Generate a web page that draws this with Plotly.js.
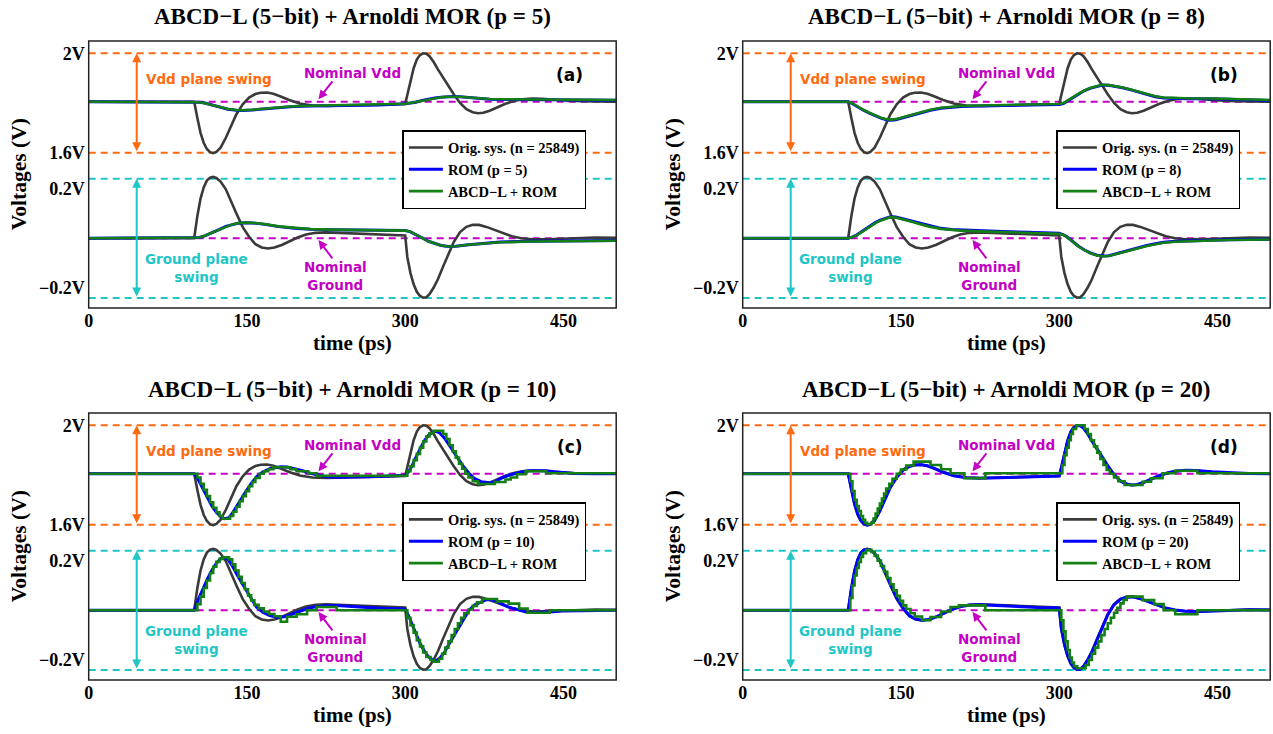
<!DOCTYPE html>
<html><head><meta charset="utf-8">
<script src="https://cdn.plot.ly/plotly-3.0.1.min.js"></script>
<style>html,body{margin:0;padding:0;background:#fff}#chart{width:1273px;height:734px}</style>
</head><body><div id="chart"></div>
<script>
// ---------------- data ----------------
const panelTitles = ['ABCD\u2212L (5\u2212bit) + Arnoldi MOR (p = 5)','ABCD\u2212L (5\u2212bit) + Arnoldi MOR (p = 8)',
  'ABCD\u2212L (5\u2212bit) + Arnoldi MOR (p = 10)','ABCD\u2212L (5\u2212bit) + Arnoldi MOR (p = 20)'];
const panelLetters = ['(a)','(b)','(c)','(d)'];
const romOrders = [5, 8, 10, 20];
const origName = 'Orig. sys. (n = 25849)';
const abcdName = 'ABCD\u2212L + ROM';
const timeSpan = [0, 500];
const timeTicks = [0, 150, 300, 450];
const vddTickVals = [1.6, 2.0];
const vddTickText = ['1.6V', '2V'];
const gndTickVals = [-0.2, 0.2];
const gndTickText = ['\u22120.2V', '0.2V'];
const vddSwing = [1.6, 2.0];
const gndSwing = [-0.24, 0.24];
const nominalVdd = 1.805;
const nominalGnd = 0;

// original system (same in all panels) [time ps, volts]
const origVdd = [[0,1.805],[100,1.805],[103,1.74],[106,1.68],[109,1.64],[112,1.615],[115,1.602],[118,1.598],[121,1.603],[125,1.62],[130,1.66],[135,1.71],[140,1.755],[146,1.795],[152,1.822],[158,1.836],[163,1.841],[169,1.842],[175,1.837],[182,1.826],[190,1.812],[200,1.798],[212,1.79],[225,1.788],[245,1.789],[265,1.791],[285,1.794],[300,1.796],[302,1.83],[305,1.89],[308,1.94],[311,1.975],[314,1.993],[317,2.0],[320,1.998],[323,1.988],[327,1.965],[331,1.935],[336,1.9],[341,1.87],[346,1.835],[352,1.8],[358,1.775],[364,1.763],[369,1.759],[374,1.761],[380,1.769],[387,1.782],[395,1.797],[403,1.808],[411,1.815],[420,1.818],[430,1.817],[445,1.812],[460,1.808],[480,1.806],[500,1.805]];
const origGnd = [[0,0],[100,0],[103,0.09],[106,0.16],[109,0.205],[112,0.232],[115,0.244],[118,0.247],[121,0.243],[125,0.228],[130,0.197],[135,0.152],[140,0.1],[146,0.045],[152,0.006],[158,-0.024],[164,-0.037],[170,-0.041],[176,-0.037],[183,-0.027],[190,-0.013],[198,0.003],[206,0.015],[215,0.022],[225,0.024],[240,0.021],[260,0.016],[280,0.013],[300,0.011],[302,-0.075],[305,-0.14],[308,-0.185],[311,-0.215],[314,-0.232],[317,-0.239],[320,-0.237],[323,-0.225],[327,-0.198],[331,-0.165],[336,-0.113],[341,-0.06],[346,-0.015],[352,0.025],[358,0.046],[364,0.054],[370,0.054],[377,0.046],[385,0.033],[393,0.019],[401,0.008],[410,0.0],[420,-0.004],[435,-0.004],[450,-0.001],[465,0.002],[480,0.003],[500,0.002]];

// panel (a) p = 5
const romVddA = [[0,1.805],[100,1.805],[105,1.803],[110,1.8],[117,1.793],[125,1.783],[132,1.775],[140,1.771],[146,1.77],[155,1.772],[167,1.777],[180,1.782],[194,1.786],[210,1.788],[225,1.789],[250,1.79],[275,1.792],[300,1.797],[305,1.799],[310,1.803],[316,1.81],[322,1.816],[328,1.82],[334,1.823],[340,1.825],[345,1.826],[352,1.825],[360,1.822],[370,1.818],[380,1.815],[395,1.814],[418,1.814],[440,1.813],[470,1.812],[500,1.811]];
const romGndA = [[0,0],[100,0],[105,0.003],[110,0.01],[117,0.022],[124,0.036],[130,0.048],[136,0.056],[142,0.061],[148,0.063],[155,0.062],[167,0.056],[180,0.047],[195,0.04],[210,0.036],[230,0.034],[260,0.032],[300,0.031],[305,0.026],[310,0.016],[316,0.002],[322,-0.012],[328,-0.022],[334,-0.029],[341,-0.033],[348,-0.032],[360,-0.026],[375,-0.019],[390,-0.015],[418,-0.012],[450,-0.01],[500,-0.009]];
const abcdVddA = [[0,1.805],[100,1.805],[105,1.803],[110,1.799],[117,1.792],[125,1.783],[132,1.776],[140,1.772],[146,1.771],[155,1.773],[167,1.778],[180,1.783],[194,1.787],[210,1.789],[225,1.79],[250,1.791],[275,1.793],[300,1.797],[305,1.8],[310,1.804],[316,1.81],[322,1.816],[328,1.82],[334,1.823],[340,1.825],[345,1.826],[352,1.825],[360,1.822],[370,1.818],[380,1.816],[395,1.815],[418,1.815],[440,1.814],[470,1.813],[500,1.812]];
const abcdGndA = [[0,0],[100,0],[105,0.003],[110,0.01],[117,0.022],[124,0.036],[130,0.047],[136,0.056],[142,0.061],[148,0.063],[155,0.062],[167,0.057],[180,0.048],[195,0.041],[210,0.037],[230,0.035],[260,0.033],[300,0.031],[305,0.026],[310,0.016],[316,0.002],[322,-0.012],[328,-0.022],[334,-0.029],[341,-0.033],[348,-0.032],[360,-0.026],[375,-0.02],[390,-0.016],[418,-0.013],[450,-0.011],[500,-0.01]];

// panel (b) p = 8
const romVddB = [[0,1.805],[100,1.805],[104,1.797],[108,1.786],[114,1.772],[120,1.759],[126,1.748],[131,1.739],[136,1.733],[140,1.731],[145,1.733],[154,1.743],[162,1.753],[169,1.762],[178,1.771],[188,1.779],[198,1.784],[207,1.786],[225,1.788],[246,1.789],[270,1.791],[300,1.794],[304,1.798],[307,1.806],[312,1.82],[318,1.836],[324,1.85],[330,1.86],[336,1.868],[341,1.872],[347,1.871],[353,1.867],[360,1.861],[368,1.853],[375,1.844],[383,1.833],[391,1.825],[399,1.82],[410,1.818],[420,1.817],[445,1.817],[475,1.813],[500,1.81]];
const romGndB = [[0,0],[100,0],[104,0.006],[108,0.013],[114,0.03],[120,0.048],[126,0.064],[131,0.074],[136,0.082],[140,0.087],[145,0.086],[154,0.076],[162,0.066],[169,0.058],[178,0.048],[188,0.04],[198,0.035],[207,0.033],[225,0.03],[246,0.027],[270,0.024],[300,0.02],[304,0.014],[307,0.007],[312,-0.01],[318,-0.031],[324,-0.047],[330,-0.06],[336,-0.068],[341,-0.071],[347,-0.07],[353,-0.063],[360,-0.056],[368,-0.047],[375,-0.038],[383,-0.029],[391,-0.022],[399,-0.016],[410,-0.012],[420,-0.01],[437,-0.009],[460,-0.006],[500,-0.004]];
const abcdVddB = [[0,1.805],[100,1.805],[104,1.798],[108,1.787],[114,1.773],[120,1.761],[126,1.75],[131,1.741],[136,1.735],[140,1.733],[145,1.735],[154,1.745],[162,1.755],[169,1.764],[178,1.773],[188,1.781],[198,1.786],[207,1.788],[225,1.79],[246,1.791],[270,1.793],[300,1.796],[304,1.8],[307,1.807],[312,1.821],[318,1.837],[324,1.851],[330,1.861],[336,1.869],[341,1.873],[347,1.872],[353,1.868],[360,1.862],[368,1.854],[375,1.845],[383,1.835],[391,1.827],[399,1.822],[410,1.82],[420,1.819],[445,1.818],[475,1.815],[500,1.812]];
const abcdGndB = [[0,0],[100,0],[104,0.005],[108,0.012],[114,0.028],[120,0.046],[126,0.062],[131,0.072],[136,0.08],[140,0.085],[145,0.084],[154,0.075],[162,0.065],[169,0.056],[178,0.046],[188,0.038],[198,0.033],[207,0.031],[225,0.028],[246,0.025],[270,0.022],[300,0.018],[304,0.013],[307,0.006],[312,-0.011],[318,-0.032],[324,-0.048],[330,-0.061],[336,-0.069],[341,-0.072],[347,-0.071],[353,-0.065],[360,-0.058],[368,-0.049],[375,-0.04],[383,-0.031],[391,-0.024],[399,-0.018],[410,-0.014],[420,-0.012],[437,-0.01],[460,-0.007],[500,-0.005]];

// panel (c) p = 10
const romVddC = [[0,1.805],[100,1.805],[104,1.78],[109,1.74],[113,1.705],[117,1.673],[121,1.65],[125,1.633],[129,1.624],[133,1.628],[136,1.645],[141,1.68],[148,1.727],[154,1.765],[159,1.793],[165,1.812],[171,1.824],[177,1.83],[182.5,1.833],[188,1.832],[194,1.827],[202,1.818],[210,1.807],[218,1.798],[225,1.793],[235,1.791],[244,1.791],[264,1.793],[285,1.796],[300,1.799],[303,1.812],[306,1.833],[310,1.87],[314,1.907],[318,1.937],[322,1.96],[326,1.972],[329,1.976],[333,1.968],[337.5,1.947],[343,1.912],[349,1.873],[355,1.835],[360.5,1.807],[366,1.785],[372,1.773],[376,1.77],[380,1.769],[385,1.772],[391,1.787],[399,1.8],[407,1.809],[412,1.814],[418,1.817],[426,1.818],[434,1.817],[441,1.813],[449,1.809],[460,1.806],[480,1.805],[500,1.805]];
const romGndC = [[0,0],[100,0],[104,0.045],[109,0.093],[113,0.13],[117,0.162],[121,0.19],[125,0.207],[128,0.213],[132,0.205],[136,0.18],[141,0.14],[148,0.09],[154,0.045],[159,0.013],[165,-0.008],[171,-0.02],[179,-0.029],[185,-0.026],[190,-0.02],[196,-0.01],[202,0],[208,0.008],[214,0.013],[225,0.019],[235,0.019],[244,0.016],[264,0.011],[285,0.007],[300,0.005],[303,-0.02],[306,-0.053],[310,-0.095],[314,-0.133],[318,-0.163],[322,-0.187],[326,-0.2],[329,-0.203],[333,-0.192],[337.5,-0.167],[343,-0.125],[349,-0.08],[355,-0.036],[360.5,0],[366,0.022],[372,0.035],[376,0.041],[380,0.043],[385,0.039],[391,0.027],[397,0.015],[403,0.007],[409,-0.001],[414.5,-0.007],[422,-0.009],[430,-0.009],[440,-0.006],[449,-0.003],[470,-0.001],[500,0]];
const abcdVddC = [[0,1.805],[100,1.805],[103,1.79],[106,1.765],[109,1.74],[112,1.715],[115,1.69],[118,1.668],[121,1.65],[124,1.635],[127,1.624],[134,1.635],[137,1.652],[140,1.672],[143,1.695],[146,1.715],[149,1.735],[152,1.755],[155,1.772],[158,1.788],[162,1.805],[166,1.815],[170,1.823],[175,1.831],[191,1.823],[197,1.815],[208,1.807],[216,1.797],[302,1.815],[305,1.835],[308,1.86],[311,1.885],[314,1.91],[317,1.935],[320,1.955],[323,1.968],[327,1.978],[336,1.965],[339,1.945],[342,1.92],[345,1.895],[348,1.87],[351,1.845],[354,1.825],[357,1.805],[360,1.79],[364,1.775],[369,1.764],[385,1.772],[395,1.782],[400,1.79],[406,1.803],[414,1.815],[434,1.807],[500,1.807]];
const abcdGndC = [[0,0],[100,0],[103,0.025],[106,0.055],[109,0.09],[112,0.12],[115,0.15],[118,0.175],[121,0.195],[124,0.207],[127,0.213],[133,0.205],[136,0.185],[139,0.16],[142,0.135],[145,0.11],[148,0.085],[151,0.06],[154,0.04],[157,0.022],[161,0.008],[166,-0.005],[171,-0.015],[176,-0.024],[182,-0.046],[188,-0.026],[197,-0.016],[207,0],[216,0.013],[235,0],[302,-0.03],[305,-0.06],[308,-0.09],[311,-0.12],[314,-0.145],[317,-0.17],[320,-0.188],[324,-0.2],[327,-0.207],[332,-0.195],[335,-0.175],[338,-0.15],[341,-0.125],[344,-0.1],[347,-0.075],[350,-0.052],[353,-0.03],[356,-0.012],[360,0.003],[364,0.018],[368,0.032],[373,0.0455],[387,0.036],[398,0.027],[408,0.007],[416,-0.01],[437,0],[500,0]];

// panel (d) p = 20
const romVddD = [[0,1.805],[100,1.805],[103,1.745],[106,1.685],[109,1.643],[112,1.617],[115,1.603],[118,1.598],[121,1.601],[125,1.616],[130,1.655],[135,1.703],[140,1.75],[146,1.79],[152,1.819],[158,1.834],[163,1.84],[169,1.841],[175,1.837],[182,1.826],[190,1.811],[200,1.797],[212,1.789],[225,1.787],[245,1.789],[265,1.791],[285,1.794],[300,1.796],[302,1.828],[305,1.887],[308,1.937],[311,1.973],[314,1.992],[317,1.999],[320,1.998],[323,1.989],[327,1.967],[331,1.938],[336,1.903],[341,1.872],[346,1.838],[352,1.802],[358,1.776],[364,1.764],[369,1.76],[374,1.762],[380,1.77],[387,1.783],[395,1.798],[403,1.809],[411,1.816],[420,1.819],[430,1.818],[445,1.813],[460,1.809],[480,1.806],[500,1.805]];
const romGndD = [[0,0],[100,0],[103,0.088],[106,0.158],[109,0.203],[112,0.231],[115,0.243],[118,0.246],[121,0.243],[125,0.229],[130,0.199],[135,0.155],[140,0.104],[146,0.049],[152,0.009],[158,-0.021],[164,-0.035],[170,-0.04],[176,-0.037],[183,-0.027],[190,-0.013],[198,0.003],[206,0.014],[215,0.021],[225,0.022],[240,0.019],[260,0.014],[280,0.011],[300,0.009],[302,-0.072],[305,-0.137],[308,-0.183],[311,-0.213],[314,-0.231],[317,-0.238],[320,-0.237],[323,-0.226],[327,-0.2],[331,-0.168],[336,-0.117],[341,-0.064],[346,-0.019],[352,0.022],[358,0.044],[364,0.053],[370,0.054],[377,0.047],[385,0.034],[393,0.02],[401,0.009],[410,0.001],[420,-0.004],[435,-0.005],[450,-0.002],[465,0.001],[480,0.002],[500,0.001]];
const abcdVddD = [[0,1.805],[100,1.805],[102,1.775],[104,1.735],[106,1.7],[108,1.675],[110,1.655],[112,1.635],[114,1.62],[116,1.608],[118,1.602],[122,1.608],[124,1.625],[126,1.645],[128,1.665],[130,1.685],[132,1.705],[134,1.725],[136,1.745],[139,1.765],[142,1.785],[146,1.805],[150,1.822],[155,1.838],[162,1.854],[178,1.84],[188,1.823],[197,1.807],[210,1.787],[230,1.807],[303,1.84],[305,1.88],[307,1.91],[309,1.94],[311,1.965],[313,1.985],[316,2.0],[324,1.985],[327,1.965],[330,1.94],[333,1.915],[336,1.89],[339,1.865],[342,1.84],[345,1.82],[348,1.805],[352,1.79],[356,1.775],[362,1.76],[379,1.773],[387,1.787],[398,1.807],[410,1.817],[431,1.807],[500,1.807]];
const abcdGndD = [[0,0],[100,0],[102,0.05],[104,0.1],[106,0.14],[108,0.17],[110,0.195],[112,0.215],[114,0.23],[117,0.243],[122,0.235],[125,0.22],[128,0.2],[131,0.178],[134,0.155],[137,0.13],[140,0.105],[143,0.08],[146,0.058],[149,0.038],[152,0.02],[155,0.005],[159,-0.012],[163,-0.025],[170,-0.04],[178,-0.027],[188,-0.005],[197,0.013],[205,0.02],[230,0],[302,-0.04],[304,-0.085],[306,-0.125],[308,-0.16],[310,-0.19],[312,-0.21],[314,-0.225],[317,-0.233],[325,-0.22],[328,-0.2],[331,-0.175],[334,-0.15],[337,-0.125],[340,-0.1],[343,-0.075],[346,-0.052],[349,-0.03],[352,-0.01],[355,0.01],[358,0.028],[361,0.042],[364,0.055],[379,0.041],[390,0.025],[399,0],[410,-0.016],[431,0],[500,0]];

const romVdd = [romVddA, romVddB, romVddC, romVddD];
const romGnd = [romGndA, romGndB, romGndC, romGndD];
const abcdVdd = [abcdVddA, abcdVddB, abcdVddC, abcdVddD];
const abcdGnd = [abcdGndA, abcdGndB, abcdGndC, abcdGndD];
const abcdStepped = [false, false, true, true];

// ---------------- layout geometry (pixels) ----------------
const W = 1273, H = 734;
const colLeft = [88.7, 742.7], plotW = 527.5;
const rowTop = [41, 413], plotH = 267, splitY = 124;
const pxPerV = 248.5, top2V = 12.3, gndZeroFromTop = 197.3;

const C = {orig:'#3a3a3a', rom:'#0000ff', abcd:'#128012', orange:'#ff6a10', cyan:'#1ec6c6', magenta:'#c400c4'};
const serif = 'Liberation Serif', sans = 'DejaVu Sans';

const xs = a => a.map(p => p[0]);
const ys = a => a.map(p => p[1]);

const data = [], annotations = [], shapes = [];
const layout = {width: W, height: H, margin:{l:0,r:0,t:0,b:0}, paper_bgcolor:'#fff', plot_bgcolor:'#fff',
  showlegend: true, annotations, shapes};

for (let i = 0; i < 4; i++) {
  const col = i % 2, row = Math.floor(i / 2);
  const x0 = colLeft[col], top = rowTop[row];
  const xa = i === 0 ? 'x' : 'x' + (i + 1);
  const gId = 2 * i + 1, vId = 2 * i + 2;
  const ya = gId === 1 ? 'y' : 'y' + gId, yv = 'y' + vId;
  const lg = i === 0 ? 'legend' : 'legend' + (i + 1);
  const xDom = [x0 / W, (x0 + plotW) / W];
  const vDom = [1 - (top + splitY) / H, 1 - top / H];
  const gDom = [1 - (top + plotH) / H, 1 - (top + splitY) / H];

  layout[(i === 0 ? 'xaxis' : 'xaxis' + (i + 1))] = {
    domain: xDom, anchor: ya, range: timeSpan, tickvals: timeTicks, ticks: '', showgrid: false, zeroline: false,
    showline: false, automargin: false, fixedrange: true,
    tickfont: {family: serif, size: 18, color: '#000', weight: 'bold'},
    title: {text: 'time (ps)', font: {family: serif, size: 21, color: '#000', weight: 'bold'}, standoff: 3}
  };
  layout[(gId === 1 ? 'yaxis' : 'yaxis' + gId)] = {
    domain: gDom, anchor: xa, range: [-(plotH - gndZeroFromTop) / pxPerV, (gndZeroFromTop - splitY) / pxPerV],
    tickvals: gndTickVals, ticktext: gndTickText, ticks: '', showgrid: false, zeroline: false, showline: false,
    automargin: false, fixedrange: true, ticklabelstandoff: 3,
    tickfont: {family: serif, size: 18, color: '#000', weight: 'bold'}
  };
  layout['yaxis' + vId] = {
    domain: vDom, anchor: xa, range: [2 - (splitY - top2V) / pxPerV, 2 + top2V / pxPerV],
    tickvals: vddTickVals, ticktext: vddTickText, ticks: '', showgrid: false, zeroline: false, showline: false,
    automargin: false, fixedrange: true, ticklabelstandoff: 3,
    tickfont: {family: serif, size: 18, color: '#000', weight: 'bold'}
  };
  layout[lg] = {x: (x0 + 313.7) / W, y: 1 - (top + 89) / H, xanchor: 'left', yanchor: 'top',
    bgcolor: '#fff', bordercolor: '#000', borderwidth: 1.5, tracegroupgap: 0, itemwidth: 34,
    font: {family: serif, size: 14.5, color: '#000', weight: 'bold'}};

  // reference dashed lines
  const dashed = (yaxis, level, color) => data.push({x: timeSpan, y: [level, level], xaxis: xa, yaxis,
    mode: 'lines', line: {color, width: 2, dash: '7px,5px'}, showlegend: false, hoverinfo: 'skip'});
  vddSwing.forEach(v => dashed(yv, v, C.orange));
  gndSwing.forEach(v => dashed(ya, v, C.cyan));
  dashed(yv, nominalVdd, C.magenta);
  dashed(ya, nominalGnd, C.magenta);

  const series = [
    {name: origName, vdd: origVdd, gnd: origGnd, color: C.orig, width: 2.6, shape: 'linear'},
    {name: 'ROM (p = ' + romOrders[i] + ')', vdd: romVdd[i], gnd: romGnd[i], color: C.rom, width: 3, shape: 'linear'},
    {name: abcdName, vdd: abcdVdd[i], gnd: abcdGnd[i], color: C.abcd, width: 2.6, shape: abcdStepped[i] ? 'hv' : 'linear'}
  ];
  series.forEach((s, k) => {
    data.push({x: xs(s.vdd), y: ys(s.vdd), xaxis: xa, yaxis: yv, mode: 'lines', name: s.name, legend: lg,
      legendgroup: lg + k, line: {color: s.color, width: s.width, shape: s.shape}, showlegend: true});
    data.push({x: xs(s.gnd), y: ys(s.gnd), xaxis: xa, yaxis: ya, mode: 'lines', name: s.name, legend: lg,
      legendgroup: lg + k, line: {color: s.color, width: s.width, shape: s.shape}, showlegend: false});
  });

  // frame
  shapes.push({type: 'rect', xref: xa + ' domain', x0: 0, x1: 1, yref: 'paper', y0: gDom[0], y1: vDom[1],
    line: {color: '#222', width: 1.5}, layer: 'above'});

  // titles
  annotations.push({text: panelTitles[i], xref: xa + ' domain', x: 0.5, yref: 'paper', y: 1 - (top - 24) / H,
    xanchor: 'center', yanchor: 'middle', showarrow: false, font: {family: serif, size: 23, color: '#000', weight: 'bold'}});
  annotations.push({text: 'Voltages (V)', xref: 'paper', x: (x0 - 70) / W, yref: 'paper', y: 1 - (top + plotH / 2) / H,
    xanchor: 'center', yanchor: 'middle', textangle: -90, showarrow: false,
    font: {family: serif, size: 21.5, color: '#000', weight: 'bold'}});
  annotations.push({text: panelLetters[i], xref: xa, x: 456, yref: yv, y: 1.913, showarrow: false,
    font: {family: sans, size: 17, color: '#000', weight: 'bold'}});
  annotations.push({text: 'Vdd plane swing', xref: xa, x: 114, yref: yv, y: 1.897, showarrow: false,
    font: {family: sans, size: 13.5, color: C.orange, weight: 'bold'}});
  annotations.push({text: 'Ground plane<br>swing', xref: xa, x: 102, yref: ya, y: -0.1215, showarrow: false,
    font: {family: sans, size: 13.5, color: C.cyan, weight: 'bold'}});
  annotations.push({text: 'Nominal Vdd', xref: xa, x: 250, yref: yv, y: 1.922, showarrow: false,
    font: {family: sans, size: 13.5, color: C.magenta, weight: 'bold'}});
  annotations.push({text: 'Nominal<br>Ground', xref: xa, x: 234, yref: ya, y: -0.153, showarrow: false,
    font: {family: sans, size: 13.5, color: C.magenta, weight: 'bold'}});
  // arrows
  const arrow = (yref, x, y, ax, ay, color, both) => annotations.push({text: '', xref: xa, yref, x, y, axref: xa, ayref: yref,
    ax, ay, showarrow: true, arrowhead: 2, startarrowhead: 2, arrowsize: 0.9, startarrowsize: 0.9, arrowwidth: 2,
    arrowcolor: color, arrowside: both ? 'end+start' : 'end', standoff: 0, startstandoff: 0});
  arrow(yv, 45.5, vddSwing[1], 45.5, vddSwing[0], C.orange, true);
  arrow(ya, 45.5, gndSwing[1], 45.5, gndSwing[0], C.cyan, true);
  arrow(yv, 217.8, 1.815, 232.1, 1.893, C.magenta, false);
  arrow(ya, 217.8, -0.007, 232.1, -0.087, C.magenta, false);
}

Plotly.newPlot('chart', data, layout, {staticPlot: true, displayModeBar: false});
</script>
</body></html>
